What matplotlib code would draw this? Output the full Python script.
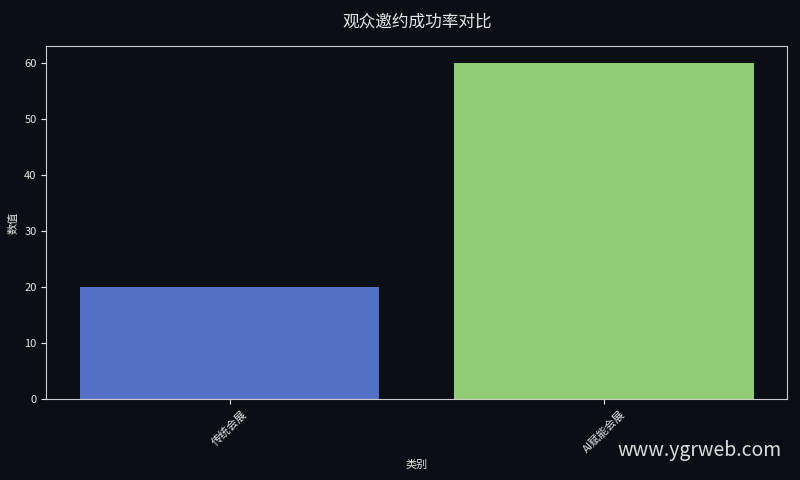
import matplotlib
matplotlib.use("Agg")
import matplotlib.pyplot as plt

plt.rcParams["font.family"] = ["Noto Sans CJK SC", "DejaVu Sans"]

# Data
categories = ["传统会展", "AI赋能会展"]
values = [20, 60]
colors = ["#5470c6", "#91cc75"]

bg = "#0b0e14"
fg = "#e6e6e6"

fig, ax = plt.subplots(figsize=(8, 4.8), dpi=100)
fig.patch.set_facecolor(bg)
ax.set_facecolor(bg)

x = range(len(categories))
ax.bar(x, values, width=0.8, color=colors)

ax.set_xticks(list(x))
ax.set_xticklabels(categories, rotation=45, fontsize=8, color=fg)
ax.tick_params(axis="y", labelsize=8, colors=fg)
ax.tick_params(axis="x", colors=fg)
ax.set_ylim(0, 63)
ax.set_xlabel("类别", fontsize=8, color=fg)
ax.set_ylabel("数值", fontsize=8, color=fg)
ax.set_title("观众邀约成功率对比", fontsize=12, color=fg, pad=14)

for s in ax.spines.values():
    s.set_color("#cccccc")

fig.subplots_adjust(left=0.058, right=0.984, top=0.904, bottom=0.169)
fig.text(0.977, 0.04, "www.ygrweb.com", ha="right", va="bottom",
         fontsize=14, color="#dddddd")

plt.savefig("out.png", dpi=100, facecolor=bg)
plt.close()
